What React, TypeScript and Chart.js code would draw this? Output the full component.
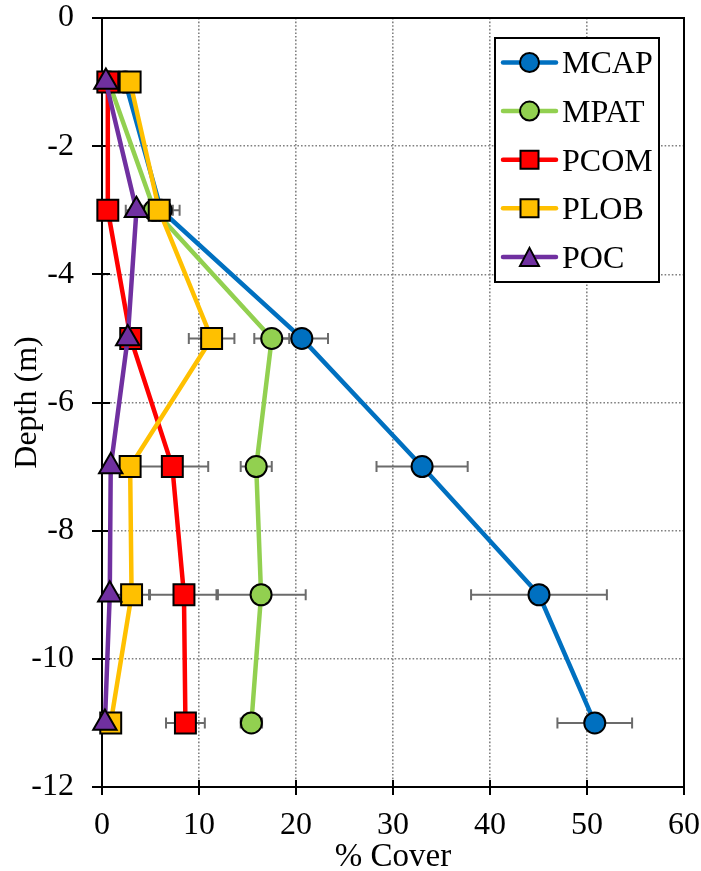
import React, { useEffect, useRef } from 'react';
import { Chart, registerables } from 'chart.js';

Chart.register(...registerables);

// ---- data ----
const depths = [-1, -3, -5, -7, -9, -11];
const seriesNames = ['MCAP', 'MPAT', 'PCOM', 'PLOB', 'POC'];
const mcap = [2.4, 6.1, 20.6, 33.0, 45.05, 50.8];
const mcapErr = [0, 1.9, 2.7, 4.7, 7.0, 3.85];
const mpat = [0.7, 5.4, 17.5, 15.9, 16.4, 15.4];
const mpatErr = [0, 1.9, 1.8, 1.6, 4.6, 1.1];
const pcom = [0.6, 0.6, 2.96, 7.25, 8.45, 8.6];
const pcomErr = [0, 0, 0.3, 3.7, 3.5, 2.0];
const plob = [2.9, 5.9, 11.3, 2.9, 3.05, 0.9];
const plobErr = [0, 0.5, 2.35, 0.8, 1.8, 0.3];
const poc = [0.4, 3.55, 2.65, 0.9, 0.8, 0.3];
const pocErr = [0, 1.1, 0.3, 0.3, 0.4, 0.2];
const xTickValues = [0, 10, 20, 30, 40, 50, 60];
const yTickValues = [0, -2, -4, -6, -8, -10, -12];
const xTitle = '% Cover';
const yTitle = 'Depth (m)';

const seriesValues = [mcap, mpat, pcom, plob, poc];
const seriesErrors = [mcapErr, mpatErr, pcomErr, plobErr, pocErr];
const colors = ['#0070C0', '#92D050', '#FF0000', '#FFC000', '#7030A0'];
const styles = ['circle', 'circle', 'rect', 'rect', 'triangle'];
const radii = [10.5, 10.5, 14.8, 14.8, 13.5];

const FONT = "'Liberation Serif', 'Times New Roman', serif";

const framePlugin = {
  id: 'frameTicksErr',
  beforeDatasetsDraw(chart: any) {
    const { ctx, chartArea: a, scales } = chart;
    const xs = scales.x;
    const ys = scales.y;
    ctx.save();
    ctx.strokeStyle = '#000';
    ctx.lineWidth = 2;
    ctx.setLineDash([]);
    ctx.strokeRect(a.left, a.top, a.right - a.left, a.bottom - a.top);
    ctx.beginPath();
    xTickValues.forEach((v) => {
      const px = Math.round(xs.getPixelForValue(v));
      ctx.moveTo(px, a.bottom - 7);
      ctx.lineTo(px, a.bottom + 8);
    });
    yTickValues.forEach((v) => {
      const py = Math.round(ys.getPixelForValue(v));
      ctx.moveTo(a.left - 10, py);
      ctx.lineTo(a.left + 8, py);
    });
    ctx.stroke();
    ctx.strokeStyle = '#6b6b6b';
    ctx.lineWidth = 2;
    seriesValues.forEach((vals, si) => {
      const errs = seriesErrors[si];
      vals.forEach((v, i) => {
        const e = errs[i];
        if (!e) return;
        const y = ys.getPixelForValue(depths[i]);
        const x1 = xs.getPixelForValue(v - e);
        const x2 = xs.getPixelForValue(v + e);
        ctx.beginPath();
        ctx.moveTo(x1, y);
        ctx.lineTo(x2, y);
        ctx.moveTo(x1, y - 5.5);
        ctx.lineTo(x1, y + 5.5);
        ctx.moveTo(x2, y - 5.5);
        ctx.lineTo(x2, y + 5.5);
        ctx.stroke();
      });
    });
    ctx.restore();
  },
};

function drawMarker(ctx: CanvasRenderingContext2D, style: string, x: number, y: number, size: number, color: string) {
  ctx.beginPath();
  if (style === 'circle') {
    ctx.arc(x, y, size / 2, 0, Math.PI * 2);
  } else if (style === 'rect') {
    ctx.rect(x - size / 2, y - size / 2, size, size);
  } else {
    const h = size;
    ctx.moveTo(x, y - h / 2);
    ctx.lineTo(x + size / 2 + 0.5, y + h / 2);
    ctx.lineTo(x - size / 2 - 0.5, y + h / 2);
    ctx.closePath();
  }
  ctx.fillStyle = color;
  ctx.fill();
  ctx.lineWidth = 2;
  ctx.strokeStyle = '#000';
  ctx.stroke();
}

const legendPlugin = {
  id: 'customLegend',
  afterDraw(chart: any) {
    const { ctx } = chart;
    ctx.save();
    const bx = 495, by = 38, bw = 164, bh = 244;
    ctx.fillStyle = '#fff';
    ctx.fillRect(bx, by, bw, bh);
    ctx.strokeStyle = '#000';
    ctx.lineWidth = 2;
    ctx.setLineDash([]);
    ctx.strokeRect(bx, by, bw, bh);
    seriesNames.forEach((name, i) => {
      const cy = 62.5 + i * 48.6;
      ctx.strokeStyle = colors[i];
      ctx.lineWidth = 4.5;
      ctx.lineCap = 'round';
      ctx.beginPath();
      ctx.moveTo(503, cy);
      ctx.lineTo(556, cy);
      ctx.stroke();
      ctx.lineCap = 'butt';
      drawMarker(ctx, styles[i], 529.5, cy, i < 2 ? 19 : 18, colors[i]);
      ctx.fillStyle = '#000';
      ctx.font = `32px ${FONT}`;
      ctx.textAlign = 'left';
      ctx.textBaseline = 'alphabetic';
      ctx.fillText(name, 562, cy + 10.8);
    });
    ctx.restore();
  },
};

export default function App() {
  const ref = useRef<HTMLCanvasElement | null>(null);
  useEffect(() => {
    if (!ref.current) return;
    const datasets = seriesNames.map((name, si) => ({
      label: name,
      data: depths.map((d, i) => ({ x: seriesValues[si][i], y: d })),
      showLine: true,
      borderColor: colors[si],
      backgroundColor: colors[si],
      borderWidth: 4.5,
      pointBackgroundColor: colors[si],
      pointBorderColor: '#000',
      pointBorderWidth: 2,
      pointRadius: radii[si],
      pointHoverRadius: radii[si],
      pointStyle: styles[si],
      clip: false,
      order: 5 - si,
      tension: 0,
    }));
    const chart = new Chart(ref.current, {
      type: 'scatter',
      data: { datasets },
      options: {
        animation: false,
        responsive: false,
        devicePixelRatio: 1,
        events: [],
        layout: { autoPadding: false, padding: { left: 0, right: 17, top: 18, bottom: 0 } },
        plugins: { legend: { display: false }, tooltip: { enabled: false } },
        scales: {
          x: {
            type: 'linear',
            position: 'bottom',
            min: 0,
            max: 60,
            afterFit: (s: any) => { s.height = 84; s.paddingRight = 0; s.paddingLeft = 0; },
            afterBuildTicks: (s: any) => { s.ticks = xTickValues.map((v) => ({ value: v })); },
            ticks: {
              stepSize: 10,
              padding: 19,
              color: '#000',
              font: { family: FONT, size: 32 },
              callback: (v: any) => String(v),
              maxRotation: 0,
            },
            grid: { color: '#808080', lineWidth: 1.6, drawTicks: false },
            border: { color: '#000', width: 2, dash: [1.6, 2] },
            title: {
              display: true,
              text: xTitle,
              color: '#000',
              font: { family: FONT, size: 33, lineHeight: 1 },
              padding: { top: 0, bottom: -3 },
            },
          },
          y: {
            type: 'linear',
            min: -12,
            max: 0,
            afterFit: (s: any) => { s.width = 102; s.paddingTop = 0; s.paddingBottom = 0; },
            afterBuildTicks: (s: any) => { s.ticks = yTickValues.slice().reverse().map((v) => ({ value: v })); },
            ticks: {
              stepSize: 2,
              padding: 28,
              color: '#000',
              font: { family: FONT, size: 32 },
              callback: (v: any) => String(v),
            },
            grid: { color: '#808080', lineWidth: 1.6, drawTicks: false },
            border: { color: '#000', width: 2, dash: [1.6, 2] },
            title: {
              display: true,
              text: yTitle,
              color: '#000',
              font: { family: FONT, size: 32, lineHeight: 1 },
              padding: { top: 12, bottom: 0 },
            },
          },
        },
      },
      plugins: [framePlugin, legendPlugin],
    } as any);
    return () => chart.destroy();
  }, []);
  return (
    <div style={{ position: 'absolute', left: 0, top: 0, width: 701, height: 871, background: '#fff' }}>
      <canvas ref={ref} width={701} height={871} style={{ display: 'block', width: 701, height: 871 }} />
    </div>
  );
}
